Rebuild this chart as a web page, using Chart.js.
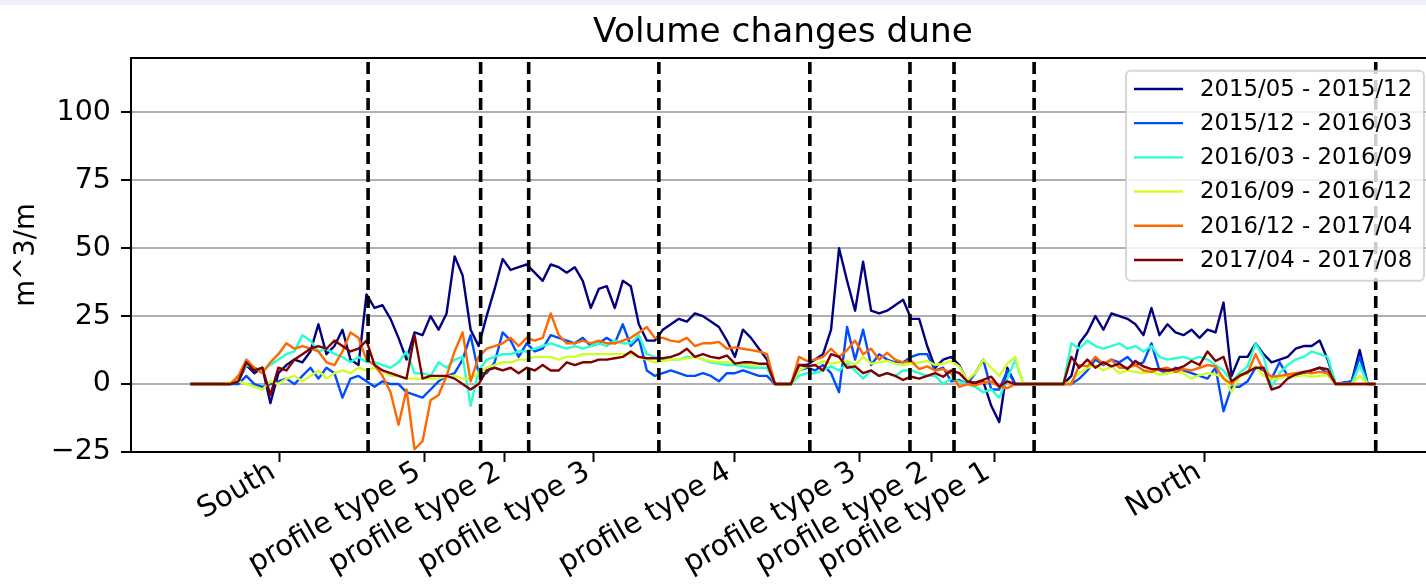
<!DOCTYPE html>
<html>
<head>
<meta charset="utf-8">
<title>Volume changes dune</title>
<script src="https://cdn.jsdelivr.net/npm/chart.js@4.4.1/dist/chart.umd.min.js"></script>
<style>
  html, body { margin: 0; padding: 0; overflow: hidden; background: #fff; }
  #wrap { position: absolute; top: 0; left: 0; width: 1440px; height: 584px; }
  #strip { position: absolute; top: 0; left: 0; width: 100%; height: 5px; background: #edf2f8; z-index: 2; }
</style>
</head>
<body>
<div id="wrap"><canvas id="duneChart" width="1440" height="584"></canvas></div>
<div id="strip"></div>
<script>
// survey periods and their jet colours
const periods = [
  "2015/05 - 2015/12",
  "2015/12 - 2016/03",
  "2016/03 - 2016/09",
  "2016/09 - 2016/12",
  "2016/12 - 2017/04",
  "2017/04 - 2017/08",
];
const periodColors = ["#000080", "#004cff", "#29ffce", "#ceff29", "#ff6800", "#800000"];

// coastal sections, south to north, and the transect numbers where they change
const sectionNames = [
  "South", "profile type 5", "profile type 2", "profile type 3", "profile type 4",
  "profile type 3", "profile type 2", "profile type 1", "North",
];
const sectionBounds = [0, 44.4, 72.5, 84.5, 117, 154.7, 179.7, 190.7, 210.7, 296];
const yTicks = [-25, 0, 25, 50, 75, 100];

// transect positions (every second transect)
const transects = Array.from({ length: 149 }, (_, i) => i * 2);

// volume change per period, m^3/m
const vol1505_1512 = [
  0, 0, 0, 0, 0, 0, 1, 7, 4, 6,
  -7, 4, 7, 9, 8, 12, 22, 11, 14, 20,
  9, 7, 33, 28, 29, 24, 17, 9, 19, 18,
  25, 20, 26, 47, 40, 20, 14, 25, 35, 46,
  42, 43, 44, 41, 38, 44, 43, 41, 43, 38,
  28, 35, 36, 28, 38, 36, 22, 16, 16, 20,
  22, 24, 23, 26, 25, 23, 21, 16, 10, 20,
  17, 13, 9, 0, 0, 0, 7, 7, 9, 11,
  20, 50, 38, 27, 45, 27, 26, 27, 29, 31,
  24, 24, 14, 6, 9, 10, 7, 1, 0, 1,
  -8, -14, 6, 0, 0, 0, 0, 0, 0, 0,
  3, 15, 19, 25, 20, 26, 25, 24, 22, 18,
  28, 18, 22, 19, 18, 20, 17, 20, 19, 30,
  3, 10, 10, 15, 11, 8, 9, 10, 13, 14,
  14, 16, 9, 0, 0.5, 1, 12.5, 0, 0,
];
const vol1512_1603 = [
  0, 0, 0, 0, 0, 0, 0, 3, 0, -1,
  0, 1, 2, 0, 3, 6, 2, 6, 4, -5,
  2, 3, 1, -1, 1, 0, 0, -3, -4, -5,
  -2, 1, 3, 4, 9, 18, 4, 4, 8, 19,
  16, 10, 15, 12, 13, 18, 17, 16, 15, 17,
  14, 15, 17, 15, 22, 14, 17, 5, 3, 4,
  5, 4, 3, 3, 4, 3, 1, 4, 4, 5,
  4, 3, 3, 0, 0, 0, 5, 6, 5, 7,
  4, -3, 21, 9, 20, 7, 11, 9, 8, 8,
  10, 11, 11, 5, 6, 1, 1.5, 0, 4, 9,
  -2, -2, 5, 0, 0, 0, 0, 0, 0, 0,
  0, 2, 5, 9, 7, 9, 8, 10, 7, 8,
  15, 5, 4, 6, 5, 4, 3, 2, 6, -10,
  -1, -1, 1, 6, 5, 2, 8, 3, 3, 4,
  5, 6, 4, 0, 0.5, 1, 10, 0, 0,
];
const vol1603_1609 = [
  0, 0, 0, 0, 0, 0, 2, 7, 6, 5,
  7, 9, 11, 12, 18, 16, 12, 13, 11, 10,
  8, 10, 8, 8, 7, 6, 8, 12, 4, 4,
  3, 8, 6, 9, 10, -8, 5, 9, 10, 11,
  11, 12, 12, 13, 14, 15, 14, 13, 14, 13,
  14, 15, 14, 16, 15, 15, 18, 11, 10, 9,
  9, 9, 10, 10, 9, 8, 7.5, 7, 7, 6.5,
  6, 6, 6, 0, 0, 0, 3, 4, 4, 5,
  6.5, 5, 7.5, 5, 2, 5, 3, 4, 3, 5,
  5, 4, 3, 3, 0, 2, 1, 0, -1, -3,
  -2, -5, 2, 9, 0, 0, 0, 0, 0, 0,
  15, 13, 16, 14, 13, 14, 15, 13, 14, 12,
  14, 10, 9, 9.5, 10, 9, 10, 9, 7, 5,
  1, 4, 6.5, 15, 10, -1, 4, 7, 9, 10,
  12, 11, 10, 0, 0, 0, 7, 0, 0,
];
const vol1609_1612 = [
  0, 0, 0, 0, 0, 0.8, 1, 0, -1, -2,
  1, 0, 2, 3, 1, 3, 5, 2, 4, 5,
  4, 6, 5, 6, 5, 3, 3, 2, 2, 2,
  2, 2, 3, 3, 2, 2, 4, 6, 7, 8,
  8, 9, 9, 10, 10, 10, 9, 10, 10, 11,
  11, 11, 11, 11, 11, 11, 10, 9, 8, 8.5,
  9, 9, 9.5, 10, 9, 8.5, 8, 8, 7.5, 7.5,
  7, 7, 7.5, 0, 0, 0, 5, 6.5, 7, 8.5,
  7.5, 8, 8.5, 7, 10, 7.5, 8, 8.5, 7.5, 7,
  7.5, 8, 8.5, 7, 7.5, 8.5, 6.5, 1.5, 4, 9,
  6, 3, 7.5, 10, 0, 0, 0, 0, 0, 0,
  1, 4, 6, 7, 5, 6.5, 4, 5, 4.5, 4,
  4.5, 3.5, 4, 4.5, 4, 2, 3.3, 4, 3.5, 2.7,
  -3, 2.7, 4, 6.5, 3, 2, 2, 3.3, 2.7, 3.3,
  2.7, 3, 3.3, 0, 0, 0, 3, 0, 0,
];
const vol1612_1704 = [
  0, 0, 0, 0, 0, 0, 3, 9, 6, 4,
  8, 11, 15, 13, 14, 13, 12, 8, 7, 12,
  19, 17, 9, 7, 3, -3, -15, -2, -24, -21,
  -6, -4, 3, 12, 19, 1, 10, 13, 14, 15,
  17, 14, 17, 16, 17, 26, 18, 15, 15, 16,
  15, 16, 15, 15, 16, 17, 19, 21, 17, 17,
  16, 15.5, 17, 14, 15, 15, 15.5, 13, 13.5, 13,
  12.5, 12, 11, 0, 0, 0, 10, 8.5, 9, 10,
  13, 10, 12.5, 16, 11, 13, 9, 11.5, 9, 8,
  8.5, 5.5, 6.5, 5, 5.5, 4, -1, 0, -0.5, 0.5,
  1, -1, -1.5, 0, 0, 0, 0, 0, 0, 0,
  0, 7, 6.5, 10, 7.5, 9, 6, 6, 7, 5,
  4.5, 5.5, 6, 4.5, 5.5, 5, 6, 7, 6.5, 2,
  0, 3.3, 4, 11, 5, 2.7, 3, 3.5, 4, 4.5,
  4, 4.5, 4, 0, 0, 0, 0, 0, 0,
];
const vol1704_1708 = [
  0, 0, 0, 0, 0, 0, 1, 8, 5, 6,
  -4, 6, 5, 9, 11, 13, 14, 13, 16, 14,
  12, 13, 16, 7, 5, 4, 3, 2, 18, 2,
  3, 3, 3, 2, 0, -2, 0, 5, 6, 5,
  6, 4, 6, 5, 7, 5, 5, 8, 7, 8,
  8, 9, 9, 9.5, 10, 12, 10, 9.5, 9.5, 9.5,
  10, 11, 13, 10, 11, 10, 9.5, 10.5, 7.5, 8,
  8, 7.5, 7.5, 0, 0, 0, 7, 6.5, 7, 5,
  11, 10, 6, 6.5, 4, 5, 3, 4, 3, 1.5,
  2.7, 2, 3, 4, 2.7, 5, 4, 1, 0.5, 1.5,
  2.7, -1, 1, 0, 0, 0, 0, 0, 0, 0,
  10, 6, 9, 6, 8, 6.5, 7.5, 5.5, 8.5, 6.5,
  5.5, 5.5, 5, 5.5, 6.5, 8.5, 7, 12, 8.5, 10,
  1, 3, 4.5, 6, 6, -2, -1, 2, 3.5, 4.5,
  5, 6, 5.5, 0, 0, 0, 0, 0, 0,
];

const seriesValues = [vol1505_1512, vol1512_1603, vol1603_1609, vol1609_1612, vol1612_1704, vol1704_1708];
const sectionCentres = sectionNames.map((_, i) => (sectionBounds[i] + sectionBounds[i + 1]) / 2);

const FONT = "'DejaVu Sans', sans-serif";

// dashed section borders + top/right frame
const sectionLines = {
  id: "sectionLines",
  afterDatasetsDraw(chart) {
    const { ctx, chartArea, scales } = chart;
    ctx.save();
    ctx.strokeStyle = "#000";
    ctx.lineWidth = 3.6;
    ctx.setLineDash([12, 6]);
    sectionBounds.slice(1).forEach((b) => {
      const px = scales.x.getPixelForValue(b);
      ctx.beginPath();
      ctx.moveTo(px, chartArea.bottom);
      ctx.lineTo(px, chartArea.top);
      ctx.stroke();
    });
    ctx.setLineDash([]);
    ctx.lineWidth = 2;
    ctx.beginPath();
    ctx.moveTo(chartArea.left, chartArea.top);
    ctx.lineTo(chartArea.right, chartArea.top);
    ctx.lineTo(chartArea.right, chartArea.bottom);
    ctx.stroke();
    ctx.restore();
  },
};

// legend box in the upper right of the axes
const legendBox = {
  id: "legendBox",
  afterDraw(chart) {
    const { ctx, chartArea } = chart;
    const boxR = chartArea.right - 11;
    const boxL = boxR - 298;
    const boxT = chartArea.top + 12.7;
    const rowH = 34.2;
    ctx.save();
    ctx.beginPath();
    ctx.roundRect(boxL, boxT, boxR - boxL, 210, 5);
    ctx.fillStyle = "rgba(255,255,255,0.8)";
    ctx.fill();
    ctx.strokeStyle = "rgba(204,204,204,0.8)";
    ctx.lineWidth = 2;
    ctx.stroke();
    ctx.font = "22.8px " + FONT;
    ctx.textBaseline = "middle";
    ctx.textAlign = "left";
    chart.data.datasets.forEach((ds, i) => {
      const y = boxT + 18.3 + i * rowH;
      ctx.strokeStyle = ds.borderColor;
      ctx.lineWidth = 2.4;
      ctx.beginPath();
      ctx.moveTo(boxL + 8, y);
      ctx.lineTo(boxL + 57, y);
      ctx.stroke();
      ctx.fillStyle = "#000";
      ctx.fillText(ds.label, boxL + 74, y + 1);
    });
    ctx.restore();
  },
};

new Chart(document.getElementById("duneChart"), {
  type: "line",
  data: {
    datasets: periods.map((label, i) => ({
      label: label,
      data: transects.map((t, k) => ({ x: t, y: seriesValues[i][k] })),
      borderColor: periodColors[i],
      borderWidth: 2.4,
      borderJoinStyle: "round",
      pointRadius: 0,
      tension: 0,
      fill: false,
      order: periods.length - i,
    })),
  },
  options: {
    responsive: false,
    animation: false,
    layout: { padding: { left: 10, right: 5, top: 0, bottom: 0 } },
    plugins: {
      legend: { display: false },
      tooltip: { enabled: false },
      title: {
        display: true,
        text: "Volume changes dune",
        color: "#000",
        fullSize: false,
        font: { family: FONT, size: 34.3, weight: "normal" },
        padding: { top: 13, bottom: 3.8 },
      },
    },
    scales: {
      x: {
        type: "linear",
        min: -14.8,
        max: 310.8,
        afterBuildTicks: (scale) => {
          scale.ticks = sectionCentres.map((v) => ({ value: v }));
        },
        afterFit: (scale) => {
          scale.height = 132;
        },
        ticks: {
          autoSkip: false,
          minRotation: 30,
          maxRotation: 30,
          padding: -7,
          labelOffset: -6,
          color: "#000",
          font: { family: FONT, size: 29 },
          callback: (value, index) => sectionNames[index],
        },
        grid: {
          drawOnChartArea: false,
          tickLength: 10,
          tickColor: "#000",
          tickWidth: 2,
        },
        border: { display: true, color: "#000", width: 2 },
      },
      y: {
        min: -25,
        max: 120,
        afterBuildTicks: (scale) => {
          scale.ticks = yTicks.map((v) => ({ value: v }));
        },
        afterFit: (scale) => {
          scale.width = 121;
        },
        ticks: {
          padding: 10,
          color: "#000",
          font: { family: FONT, size: 28.5 },
          callback: (v) => (v < 0 ? "\u2212" + Math.abs(v) : String(v)),
        },
        grid: {
          color: "#b0b0b0",
          lineWidth: 2,
          tickLength: 10,
          tickColor: "#000",
          tickWidth: 2,
        },
        border: { display: true, color: "#000", width: 2 },
        title: {
          display: true,
          text: "m^3/m",
          color: "#000",
          font: { family: FONT, size: 27.5 },
          padding: { top: 0, bottom: 0 },
        },
      },
    },
  },
  plugins: [sectionLines, legendBox],
});
</script>
</body>
</html>
